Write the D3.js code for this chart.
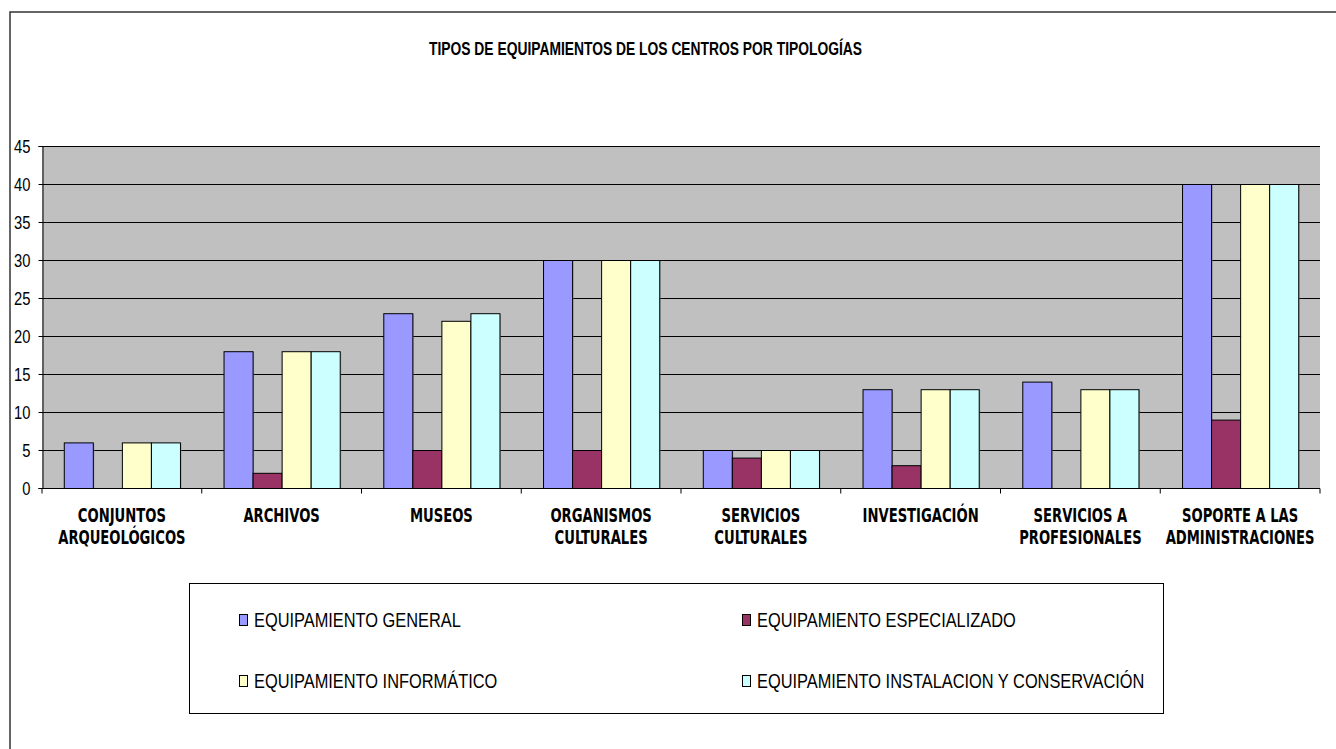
<!DOCTYPE html>
<html><head><meta charset="utf-8">
<script src="https://cdn.jsdelivr.net/npm/d3@7"></script>
<style>body{margin:0;background:#fff;}svg{display:block;}</style>
</head><body><svg id="c" width="1336" height="749"></svg>
<script>
const title = "TIPOS DE EQUIPAMIENTOS DE LOS CENTROS POR TIPOLOGÍAS";
const categories = [
  ["CONJUNTOS","ARQUEOLÓGICOS"],["ARCHIVOS"],["MUSEOS"],["ORGANISMOS","CULTURALES"],
  ["SERVICIOS","CULTURALES"],["INVESTIGACIÓN"],["SERVICIOS A","PROFESIONALES"],["SOPORTE A LAS","ADMINISTRACIONES"]
];
const seriesNames = ["EQUIPAMIENTO GENERAL","EQUIPAMIENTO ESPECIALIZADO","EQUIPAMIENTO INFORMÁTICO","EQUIPAMIENTO INSTALACION Y CONSERVACIÓN"];
const general      = [6, 18, 23, 30, 5, 13, 14, 40];
const especial     = [0, 2, 5, 5, 4, 3, 0, 9];
const informatico  = [6, 18, 22, 30, 5, 13, 13, 40];
const conservacion = [6, 18, 23, 30, 5, 13, 13, 40];
const colors = ["#9999FF","#993366","#FFFFCC","#CCFFFF"];
const yTicks = [0,5,10,15,20,25,30,35,40,45];

const series = [general, especial, informatico, conservacion];
const svg = d3.select("#c");
const sans = "'Liberation Sans',Arial,sans-serif";
const NX = 0.82; // narrow factor

svg.append("rect").attr("x",10).attr("y",12).attr("width",1400).attr("height",800)
  .attr("fill","none").attr("stroke","#333").attr("stroke-width",1.5);

svg.append("text").attr("x",429).attr("y",55)
  .attr("font-family",sans).attr("font-weight","bold").attr("font-size",18)
  .attr("textLength",433).attr("lengthAdjust","spacingAndGlyphs").text(title);

const L=42, R=1320, T=146, B=488;
const x0 = d3.scaleBand().domain(d3.range(categories.length)).range([L,R]).paddingInner(0).paddingOuter(0);
const x1 = d3.scaleBand().domain(d3.range(4)).range([0,x0.bandwidth()]).paddingOuter(0.75).paddingInner(0);
const y = d3.scaleLinear().domain([0,45]).range([B,T]);

svg.append("rect").attr("x",L).attr("y",T).attr("width",R-L).attr("height",B-T).attr("fill","#C0C0C0");
svg.append("g").selectAll("line").data(yTicks.slice(1)).join("line")
  .attr("x1",L).attr("x2",R).attr("y1",d=>y(d)+0.5).attr("y2",d=>y(d)+0.5).attr("stroke","#000");

const g = svg.append("g").selectAll("g").data(categories).join("g")
  .attr("transform",(d,i)=>`translate(${x0(i)},0)`);
const bars = g.selectAll("g").data((d,i)=>series.map((s,k)=>({k,v:s[i]})).filter(d=>d.v>0)).join("g");
bars.append("rect")
  .attr("x",d=>x1(d.k)+1.5).attr("y",d=>y(d.v)+1)
  .attr("width",x1.bandwidth()).attr("height",d=>B-y(d.v))
  .attr("fill","#808080").attr("opacity",0.6);
bars.append("rect")
  .attr("x",d=>x1(d.k)+0.5).attr("y",d=>y(d.v)+0.5)
  .attr("width",x1.bandwidth()).attr("height",d=>B-y(d.v))
  .attr("fill",d=>colors[d.k]).attr("stroke","#000").attr("stroke-width",1);

// axes
const yAxis = d3.axisLeft(y).tickValues(yTicks).tickSize(4).tickPadding(8).tickFormat(d3.format("d"));
const ya = svg.append("g").attr("transform",`translate(${L+0.5},0)`).call(yAxis);
ya.select(".domain").attr("stroke","#000");
ya.selectAll(".tick line").attr("stroke","#000");
ya.selectAll("text").attr("font-family",sans).attr("font-size",18).attr("fill","#000")
  .attr("x",-12/NX).attr("dy","0.36em").attr("transform",`scale(${NX},1)`);

const xa = svg.append("g").attr("transform",`translate(0,${B+0.5})`);
xa.append("line").attr("x1",L).attr("x2",R).attr("stroke","#000");
xa.selectAll("line.t").data(d3.range(categories.length+1)).join("line").attr("class","t")
  .attr("x1",i=>i<categories.length?x0(i):R).attr("x2",i=>i<categories.length?x0(i):R)
  .attr("y1",0).attr("y2",5).attr("stroke","#000");
const lbl = xa.selectAll("text").data(categories).join("text")
  .attr("text-anchor","middle").attr("font-family","'DejaVu Sans Condensed','DejaVu Sans',sans-serif")
  .attr("font-weight","bold").attr("font-size",19)
  .attr("transform",(d,i)=>`translate(${x0(i)+x0.bandwidth()/2},0) scale(0.77,1)`);
lbl.selectAll("tspan").data(d=>d).join("tspan").attr("x",0).attr("y",(d,j)=>34+j*22).text(d=>d);

// legend
svg.append("rect").attr("x",189.5).attr("y",583.5).attr("width",974).attr("height",130)
  .attr("fill","#fff").attr("stroke","#000");
const lg = svg.append("g").selectAll("g").data(seriesNames).join("g")
  .attr("transform",(d,i)=>`translate(${i%2===0?239:742},${i<2?614:675})`);
lg.append("rect").attr("x",0.5).attr("y",0.5).attr("width",8).attr("height",11)
  .attr("fill",(d,i)=>colors[i]).attr("stroke","#000");
lg.append("text").attr("x",15/NX).attr("y",13).attr("font-family",sans).attr("font-size",20)
  .attr("transform",`scale(${NX},1)`).text(d=>d);
</script></body></html>
